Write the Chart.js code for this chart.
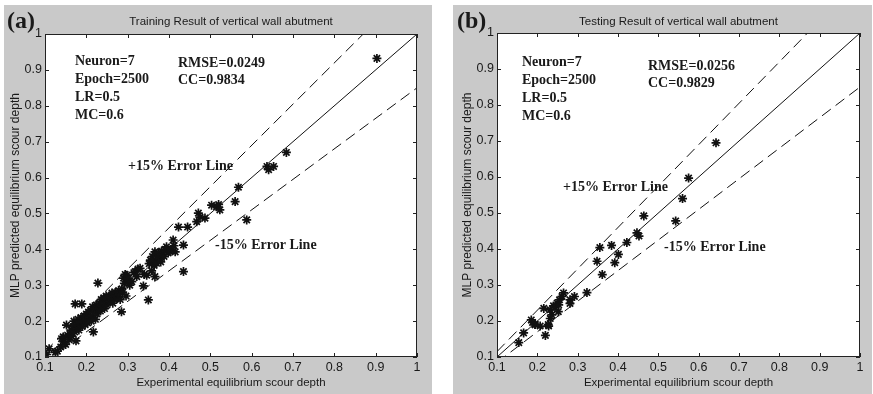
<!DOCTYPE html>
<html>
<head>
<meta charset="utf-8">
<script src="https://cdn.jsdelivr.net/npm/chart.js@4.4.0/dist/chart.umd.min.js"></script>
<style>
    body { margin: 0; background: #fff; }
    canvas { position: absolute; }
    #chartA { left: 4px; top: 5px; }
    #chartB { left: 453px; top: 5px; }
</style>
</head>
<body>
<canvas id="chartA" width="428" height="389"></canvas>
<canvas id="chartB" width="419" height="389"></canvas>
<script>
// Tick labels shared by both axes of both panels
const tickValues = [0.1, 0.2, 0.3, 0.4, 0.5, 0.6, 0.7, 0.8, 0.9, 1];
const tickLabels = ['0.1', '0.2', '0.3', '0.4', '0.5', '0.6', '0.7', '0.8', '0.9', '1'];

// Reference lines: perfect agreement and +/-15% error
const perfectLine = [[0.1, 0.1], [1, 1]];
const upperLine = [[0.1, 0.115], [0.87, 1]];
const lowerLine = [[0.1, 0.085], [1, 0.85]];

// (experimental, predicted) pairs
const trainData = [
    [0.104,0.107],[0.11,0.123],[0.125,0.113],[0.13,0.116],[0.138,0.128],[0.14,0.151],[0.144,0.156],[0.146,0.142],
    [0.15,0.135],[0.152,0.189],[0.155,0.16],[0.158,0.148],[0.16,0.165],[0.163,0.175],[0.165,0.158],[0.168,0.185],
    [0.17,0.2],[0.172,0.17],[0.173,0.248],[0.175,0.145],[0.176,0.192],[0.178,0.18],[0.18,0.205],[0.182,0.175],
    [0.185,0.195],[0.187,0.21],[0.189,0.248],[0.19,0.185],[0.192,0.2],[0.195,0.215],[0.197,0.19],[0.2,0.205],[0.2,0.22],
    [0.203,0.195],[0.205,0.225],[0.207,0.21],[0.21,0.23],[0.212,0.2],[0.214,0.215],[0.215,0.24],[0.217,0.17],
    [0.218,0.225],[0.22,0.235],[0.222,0.205],[0.224,0.245],[0.226,0.22],[0.228,0.306],[0.23,0.235],[0.232,0.25],
    [0.234,0.228],[0.236,0.26],[0.238,0.24],[0.24,0.255],[0.242,0.265],[0.244,0.235],[0.246,0.25],[0.248,0.27],
    [0.25,0.245],[0.252,0.26],[0.255,0.27],[0.258,0.255],[0.26,0.265],[0.262,0.278],[0.264,0.25],[0.266,0.268],
    [0.268,0.26],[0.27,0.28],[0.272,0.27],[0.275,0.265],[0.278,0.285],[0.28,0.275],[0.282,0.26],[0.285,0.226],
    [0.286,0.29],[0.288,0.28],[0.29,0.32],[0.292,0.305],[0.294,0.33],[0.296,0.27],[0.298,0.328],[0.3,0.31],[0.302,0.319],
    [0.305,0.3],[0.31,0.31],[0.315,0.335],[0.318,0.338],[0.322,0.324],[0.325,0.345],[0.33,0.347],[0.338,0.298],
    [0.34,0.33],[0.346,0.328],[0.35,0.259],[0.352,0.36],[0.355,0.37],[0.358,0.34],[0.36,0.38],[0.362,0.37],
    [0.364,0.355],[0.366,0.393],[0.366,0.324],[0.368,0.385],[0.37,0.361],[0.372,0.38],[0.375,0.39],[0.378,0.375],
    [0.38,0.365],[0.382,0.395],[0.385,0.385],[0.388,0.38],[0.39,0.4],[0.394,0.407],[0.398,0.39],[0.402,0.395],
    [0.406,0.398],[0.41,0.426],[0.412,0.41],[0.415,0.393],[0.423,0.462],[0.435,0.412],[0.435,0.338],[0.445,0.462],
    [0.467,0.477],[0.471,0.501],[0.475,0.49],[0.487,0.487],[0.503,0.523],[0.515,0.519],[0.52,0.525],[0.523,0.51],
    [0.56,0.533],[0.568,0.573],[0.588,0.482],[0.637,0.631],[0.641,0.622],[0.653,0.631],[0.684,0.67],[0.903,0.932]
];

const testData = [
    [0.154,0.14],[0.166,0.167],[0.185,0.203],[0.188,0.196],[0.194,0.19],[0.195,0.19],[0.207,0.186],[0.22,0.16],
    [0.216,0.235],[0.227,0.19],[0.228,0.186],[0.232,0.207],[0.236,0.217],[0.232,0.231],[0.24,0.242],[0.244,0.238],
    [0.249,0.25],[0.253,0.245],[0.255,0.259],[0.261,0.268],[0.265,0.278],[0.252,0.226],[0.281,0.259],[0.281,0.249],
    [0.292,0.268],[0.323,0.279],[0.348,0.366],[0.355,0.404],[0.361,0.329],[0.384,0.41],[0.392,0.362],[0.401,0.385],
    [0.422,0.418],[0.447,0.445],[0.452,0.436],[0.464,0.492],[0.543,0.478],[0.56,0.54],[0.575,0.597],[0.643,0.695]
];

const toXY = arr => arr.map(p => ({ x: p[0], y: p[1] }));

// Draws the grey figure background, plot box, inward ticks and annotations
const panelPlugin = {
    id: 'panel',
    beforeDraw(chart) {
        const { ctx, chartArea: a } = chart;
        ctx.save();
        ctx.fillStyle = '#c9c9c9';
        ctx.fillRect(0, 0, chart.width, chart.height);
        ctx.fillStyle = '#ffffff';
        ctx.fillRect(a.left, a.top, a.right - a.left, a.bottom - a.top);
        ctx.restore();
    },
    afterDraw(chart, args, opts) {
        const { ctx, chartArea: a, scales } = chart;
        ctx.save();
        ctx.strokeStyle = '#222';
        ctx.lineWidth = 1;
        ctx.strokeRect(a.left + 0.5, a.top + 0.5, a.right - a.left - 1, a.bottom - a.top - 1);

        ctx.beginPath();
        tickValues.forEach(v => {
            const px = Math.round(scales.x.getPixelForValue(v)) + 0.5;
            const py = Math.round(scales.y.getPixelForValue(v)) + 0.5;
            ctx.moveTo(px, a.bottom); ctx.lineTo(px, a.bottom - 4);
            ctx.moveTo(px, a.top); ctx.lineTo(px, a.top + 4);
            ctx.moveTo(a.left, py); ctx.lineTo(a.left + 4, py);
            ctx.moveTo(a.right, py); ctx.lineTo(a.right - 4, py);
        });
        ctx.stroke();

        // Panel title
        ctx.fillStyle = '#1a1a1a';
        ctx.font = '11.5px "Liberation Sans", Arial, sans-serif';
        ctx.textAlign = 'center';
        ctx.textBaseline = 'middle';
        ctx.fillText(opts.title, (a.left + a.right) / 2, 17);

        // Panel letter
        ctx.font = 'bold 24px "Liberation Serif", "Times New Roman", serif';
        ctx.textAlign = 'left';
        ctx.textBaseline = 'alphabetic';
        ctx.fillText(opts.letter, opts.letterX, 23);

        // Annotations
        ctx.font = 'bold 14px "Liberation Serif", "Times New Roman", serif';
        ctx.textBaseline = 'middle';
        opts.notes.forEach(n => {
            ctx.fillText(n.text, a.left + n.dx, a.top + n.dy);
        });
        ctx.restore();
    }
};

function makeChart(id, cfg) {
    const tickFont = { family: '"Liberation Sans", Arial, sans-serif', size: 12.5 };
    const tickFmt = v => tickLabels[Math.round(v * 10) - 1];
    const lineStyle = (data, dash) => ({
        type: 'line',
        data: toXY(data),
        borderColor: '#111',
        borderWidth: 1,
        borderDash: dash,
        pointRadius: 0,
        showLine: true,
        fill: false
    });

    new Chart(document.getElementById(id).getContext('2d'), {
        type: 'scatter',
        data: {
            datasets: [
                lineStyle(perfectLine, []),
                lineStyle(upperLine, [11, 6]),
                lineStyle(lowerLine, [11, 6]),
                {
                    data: toXY(cfg.points),
                    pointStyle: 'star',
                    pointRadius: 4.5,
                    borderColor: '#111',
                    borderWidth: 1.7,
                    backgroundColor: 'transparent'
                }
            ]
        },
        options: {
            responsive: false,
            animation: false,
            devicePixelRatio: 1,
            layout: { padding: { top: cfg.padTop, right: cfg.padRight, left: 0, bottom: 0 } },
            plugins: {
                legend: { display: false },
                tooltip: { enabled: false },
                panel: cfg.panel
            },
            scales: {
                x: {
                    type: 'linear',
                    min: 0.1,
                    max: 1,
                    grid: { display: false, drawTicks: false },
                    border: { display: false },
                    ticks: { stepSize: 0.1, callback: tickFmt, font: tickFont, color: '#1a1a1a', padding: 3, maxRotation: 0, autoSkip: false },
                    title: {
                        display: true,
                        text: 'Experimental equilibrium scour depth',
                        color: '#1a1a1a',
                        font: { family: '"Liberation Sans", Arial, sans-serif', size: 11.5 },
                        padding: { top: 0, bottom: 4 }
                    },
                    afterFit: scale => { scale.height = 37; }
                },
                y: {
                    type: 'linear',
                    min: 0.1,
                    max: 1,
                    grid: { display: false, drawTicks: false },
                    border: { display: false },
                    ticks: { stepSize: 0.1, callback: tickFmt, font: tickFont, color: '#1a1a1a', padding: 3, autoSkip: false },
                    title: {
                        display: true,
                        text: 'MLP predicted equilibrium scour depth',
                        color: '#1a1a1a',
                        font: { family: '"Liberation Sans", Arial, sans-serif', size: 12 },
                        padding: { top: cfg.yTitlePad, bottom: 0 }
                    },
                    afterFit: scale => { scale.width = cfg.yWidth; }
                }
            }
        },
        plugins: [panelPlugin]
    });
}

makeChart('chartA', {
    points: trainData,
    padTop: 29,
    padRight: 15,
    yWidth: 41,
    yTitlePad: 4,
    panel: {
        title: 'Training Result of vertical wall abutment',
        letter: '(a)',
        letterX: 3,
        notes: [
            { text: 'Neuron=7', dx: 30, dy: 27 },
            { text: 'Epoch=2500', dx: 30, dy: 45 },
            { text: 'LR=0.5', dx: 30, dy: 63 },
            { text: 'MC=0.6', dx: 30, dy: 81 },
            { text: 'RMSE=0.0249', dx: 133, dy: 29 },
            { text: 'CC=0.9834', dx: 133, dy: 46 },
            { text: '+15% Error Line', dx: 83, dy: 132 },
            { text: '-15% Error Line', dx: 170, dy: 211 }
        ]
    }
});

makeChart('chartB', {
    points: testData,
    padTop: 28,
    padRight: 12,
    yWidth: 44,
    yTitlePad: 7,
    panel: {
        title: 'Testing Result of vertical wall abutment',
        letter: '(b)',
        letterX: 4,
        notes: [
            { text: 'Neuron=7', dx: 25, dy: 29 },
            { text: 'Epoch=2500', dx: 25, dy: 47 },
            { text: 'LR=0.5', dx: 25, dy: 65 },
            { text: 'MC=0.6', dx: 25, dy: 83 },
            { text: 'RMSE=0.0256', dx: 151, dy: 33 },
            { text: 'CC=0.9829', dx: 151, dy: 50 },
            { text: '+15% Error Line', dx: 66, dy: 154 },
            { text: '-15% Error Line', dx: 167, dy: 214 }
        ]
    }
});
</script>
</body>
</html>
